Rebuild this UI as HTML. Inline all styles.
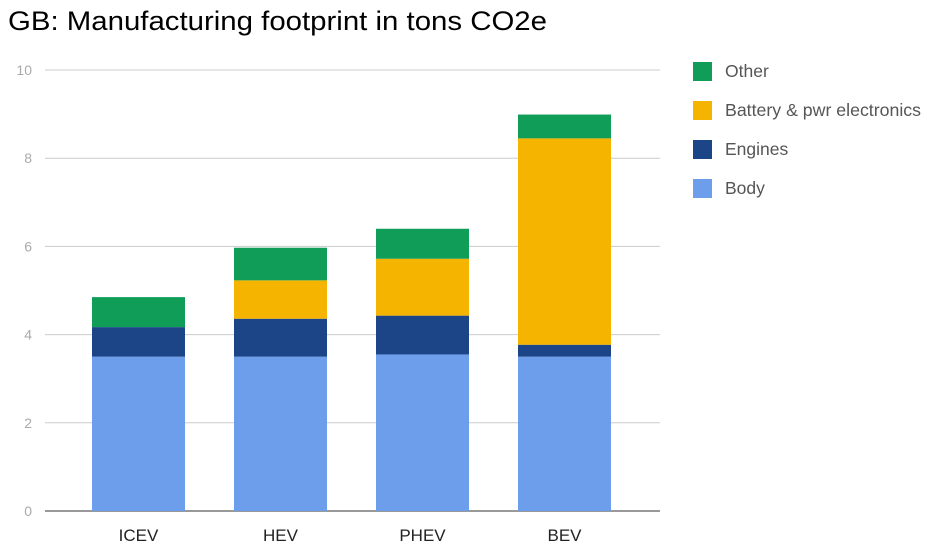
<!DOCTYPE html>
<html><head><meta charset="utf-8"><style>
body{margin:0;background:#fff;font-family:"Liberation Sans",sans-serif}
</style></head><body>
<svg width="927" height="548" xmlns="http://www.w3.org/2000/svg">
<text x="8" y="30" font-size="27" textLength="539" lengthAdjust="spacingAndGlyphs" fill="#000" font-family="Liberation Sans, sans-serif">GB: Manufacturing footprint in tons CO2e</text>
<g id="grid"></g><g id="bars"></g><g id="legend"></g>
</svg>
<script>
const categories=["ICEV","HEV","PHEV","BEV"];
const seriesNames=["Body","Engines","Battery & pwr electronics","Other"];
const body=[3.5,3.5,3.55,3.5];
const engines=[0.67,0.86,0.88,0.27];
const battery=[0,0.87,1.29,4.68];
const other=[0.68,0.74,0.68,0.54];
const yTicks=[0,2,4,6,8,10];
const colors=["#6d9eeb","#1c4587","#f4b400","#0f9d58"];
const ns="http://www.w3.org/2000/svg";
const y0=511,pxPer=44.1,x0=45,x1=660;
function y(v){return y0-v*pxPer;}
function xc(i){return 138.5+i*142;}
function mk(t,a,p){const e=document.createElementNS(ns,t);for(const k in a)e.setAttribute(k,a[k]);p.appendChild(e);return e;}
const grid=document.getElementById('grid');
yTicks.forEach(t=>{
 const l=mk('line',{x1:x0,x2:x1,y1:y(t),y2:y(t),stroke:t===0?'#333':'#ccc','stroke-width':1},grid);
 
 
 const tx=mk('text',{x:32,y:y(t)+5,'text-anchor':'end','font-size':14,fill:'#aaa'},grid);
 tx.textContent=t;
 
 
});
const bars=document.getElementById('bars');
const series=[body,engines,battery,other];
categories.forEach((c,i)=>{
 let acc=0;
 series.forEach((s,k)=>{
  const v=s[i];
  if(v>0){
   const r=mk('rect',{x:xc(i)-46.5,y:y(acc+v),width:93,height:v*pxPer,fill:colors[k]},bars);
   
   
  }
  acc+=v;
 });
 const t=mk('text',{x:xc(i),y:541,'text-anchor':'middle','font-size':17,fill:'#222'},bars);
 t.textContent=c;
 
 
});
const lg=document.getElementById('legend');
[3,2,1,0].forEach((k,j)=>{
 const yy=62+j*39;
 const r=mk('rect',{x:693,y:yy,width:19,height:19,fill:colors[k]},lg);
 
 
 const t=mk('text',{x:725,y:yy+15,'font-size':17.5,fill:'#555'},lg);
 if(k===2){t.setAttribute('textLength',196);t.setAttribute('lengthAdjust','spacingAndGlyphs');}
 t.textContent=seriesNames[k];
 
 
});
</script>
</body></html>
